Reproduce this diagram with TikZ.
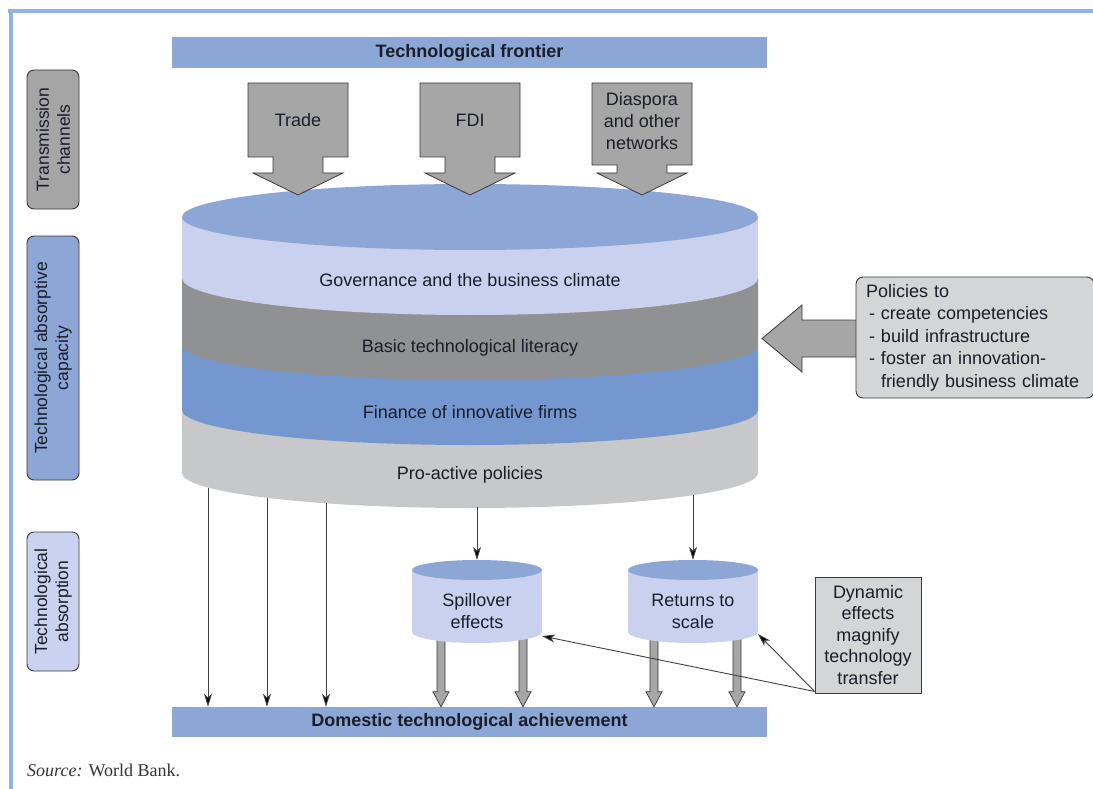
\documentclass[tikz,border=0pt]{standalone}
\usepackage{fontspec}
\setmainfont{Liberation Serif}
\setsansfont{Liberation Sans}
\usetikzlibrary{arrows.meta,calc}

\definecolor{framebl}{HTML}{8DB4E3}
\definecolor{barbl}{HTML}{8CA6D6}
\definecolor{lavender}{HTML}{C9D1EF}
\definecolor{bandgray}{HTML}{909193}
\definecolor{bandblue}{HTML}{7497D0}
\definecolor{bandlight}{HTML}{C7C8CA}
\definecolor{arrowgray}{HTML}{A6A6A6}
\definecolor{boxgray}{HTML}{D4D5D7}
\definecolor{edgegray}{HTML}{3A3A3A}
\definecolor{ink}{HTML}{1A1E28}
\definecolor{lblgray}{HTML}{A5A5A6}
\definecolor{lblblue}{HTML}{C9D3F0}

% block arrow pointing down: centre x, bottom of the box part, tip y
\newcommand\bigdown[3]{%
  \filldraw[bigarrow] (#1-50,83) -- (#1+50,83) -- (#1+50,#2) -- (#1+25,#2)
    -- (#1+25,173) -- (#1+45,173) -- (#1,#3) -- (#1-45,173) -- (#1-25,173)
    -- (#1-25,#2) -- (#1-50,#2) -- cycle;}

% small two-tone cylinder with a centred label: centre x, node name, text
\newcommand\smallcyl[3]{%
  \fill[lavender] (#1-65,570) -- (#1-65,632)
    arc[start angle=180,end angle=0,x radius=65,y radius=11] -- (#1+65,570) -- cycle;
  \fill[barbl] (#1,570) ellipse[x radius=65,y radius=10];
  \node[sanslabel, align=center] (#2) at (#1,611) {#3};}

% thick arrow from a start coordinate down to a target
\newcommand\fatdown[2]{%
  \path[fatarrow] let \p1=(#1), \p2=(#1 |- #2) in
    (\x1-4pt,\y1) -- (\x1-4pt,\y2+15pt) -- (\x1-8pt,\y2+15pt) -- (\x1,\y2)
    -- (\x1+8pt,\y2+15pt) -- (\x1+4pt,\y2+15pt) -- (\x1+4pt,\y1);}

\begin{document}
\begin{tikzpicture}[x=1pt,y=-1pt,
  every node/.style={text=ink},
  sanslabel/.style={font=\sffamily\fontsize{18}{22}\selectfont},
  boldlabel/.style={font=\sffamily\bfseries\fontsize{18}{22}\selectfont},
  linkbar/.style={boldlabel, fill=barbl, minimum width=595, minimum height=31, inner sep=0pt},
  sidelabel/.style={font=\sffamily\fontsize{17.5}{21}\selectfont, draw=edgegray,
    line width=0.9pt, rounded corners=7, rotate=90, minimum height=52,
    inner sep=0pt, align=center},
  bigarrow/.style={fill=arrowgray, draw=edgegray, line width=0.8pt, line join=miter},
  thinarrow/.style={draw=black!75, line width=0.9pt,
    -{Stealth[length=13pt,width=8pt,inset=3.5pt,fill=black]}},
  fatarrow/.style={fill=arrowgray, draw=edgegray, line width=0.7pt},
  infobox/.style={sanslabel, fill=boxgray, draw=edgegray, line width=0.9pt},
]
\useasboundingbox (0,0) rectangle (1093,789);

% page frame
\draw[framebl, line width=4] (8,11.5) -- (1093,11.5);
\draw[framebl, line width=4] (10.5,9.5) -- (10.5,789);

% frontier bar
\node[linkbar] (frontier) at (469.5,52.5) {Technological frontier};

% stage labels on the left
\node[sidelabel, fill=lblgray, minimum width=139] (lblT) at (53,139.5) {Transmission\\channels};
\node[sidelabel, fill=barbl, minimum width=244] (lblC) at (53,358) {Technological absorptive\\capacity};
\node[sidelabel, fill=lblblue, minimum width=139] (lblA) at (53,601.5) {Technological\\absorption};

% layered cylinder, bottom band first
\fill[bandlight] (182,410) -- (182,473) arc[start angle=180,end angle=0,x radius=288,y radius=35] -- (758,410) -- cycle;
\fill[bandblue]  (182,345) -- (182,410) arc[start angle=180,end angle=0,x radius=288,y radius=35] -- (758,345) -- cycle;
\fill[bandgray]  (182,278) -- (182,345) arc[start angle=180,end angle=0,x radius=288,y radius=35] -- (758,278) -- cycle;
\fill[lavender]  (182,217) -- (182,278) arc[start angle=180,end angle=0,x radius=288,y radius=37] -- (758,217) -- cycle;
\fill[barbl] (470,217) ellipse[x radius=288,y radius=33];

\node[sanslabel] (gov) at (470,280) {Governance and the business climate};
\node[sanslabel] (lit) at (470,348) {Basic technological literacy};
\node[sanslabel] (fin) at (470,412) {Finance of innovative firms};
\node[sanslabel] (pro) at (470,475) {Pro-active policies};

% transmission channels
\bigdown{298}{157}{195}
\bigdown{470}{157}{195}
\bigdown{642}{165}{195}
\node[sanslabel] (trade) at (298,120) {Trade};
\node[sanslabel] (fdi) at (470,120) {FDI};
\node[sanslabel, align=center] (dias) at (642,121) {Diaspora\\and other\\networks};

% policy box with its arrow into the cylinder
\filldraw[bigarrow] (856,320) -- (802,320) -- (802,305) -- (762,338.5) -- (802,372) -- (802,357) -- (856,357);
\node[infobox, rounded corners=7, minimum width=238, minimum height=121, text width=218,
  align=left, inner sep=0pt, font=\sffamily\fontsize{18}{22.5}\selectfont] (pol) at (975,337.5)
  {Policies to\\
   \hspace*{3pt}- create competencies\\
   \hspace*{3pt}- build infrastructure\\
   \hspace*{3pt}- foster an innovation-\\
   \hspace*{3pt}\phantom{- }friendly business climate};

% achievement bar
\node[linkbar, minimum height=30] (dom) at (469.5,722) {Domestic technological achievement};

% direct absorption
\coordinate (c1) at (208,488);
\coordinate (c2) at (267,498);
\coordinate (c3) at (326,503);
\coordinate (c4) at (477,507);
\coordinate (c5) at (693,495);
\coordinate (spT) at (477,560);
\coordinate (rtT) at (693,560);
\draw[thinarrow] (c1) -- (c1 |- dom.north);
\draw[thinarrow] (c2) -- (c2 |- dom.north);
\draw[thinarrow] (c3) -- (c3 |- dom.north);
\draw[thinarrow] (c4) -- (spT);
\draw[thinarrow] (c5) -- (rtT);

% spillover and scale effects feeding the bar
\coordinate (f1) at (441,630);
\coordinate (f2) at (523,630);
\coordinate (f3) at (654,630);
\coordinate (f4) at (737,630);
\fatdown{f1}{dom.north}
\fatdown{f2}{dom.north}
\fatdown{f3}{dom.north}
\fatdown{f4}{dom.north}

\smallcyl{477}{spill}{Spillover\\effects}
\smallcyl{693}{scale}{Returns to\\scale}

% dynamic effects
\node[infobox, minimum width=106, minimum height=116, align=center, inner sep=0pt,
  font=\sffamily\fontsize{18}{21.5}\selectfont] (dyn) at (868,635)
  {Dynamic\\effects\\magnify\\technology\\transfer};
\coordinate (spR) at (542,636);
\coordinate (rtR) at (758,634);
\draw[thinarrow] ([yshift=2pt]dyn.south west) -- (spR);
\draw[thinarrow] ([yshift=2pt]dyn.south west) -- (rtR);

% source line
\node[anchor=west, inner sep=0pt, text=black!80, font=\rmfamily\fontsize{18}{20}\selectfont] (src) at (27,770)
  {\textit{Source:} World Bank.};
\end{tikzpicture}
\end{document}
